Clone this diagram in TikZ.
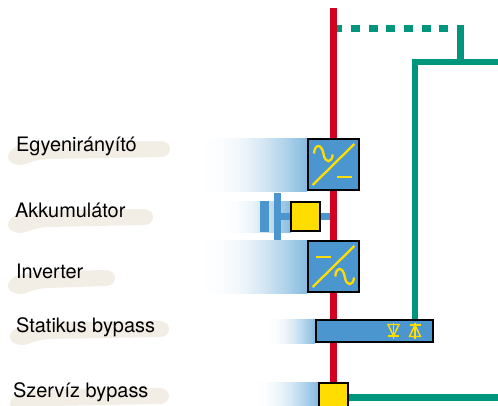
\documentclass[tikz,border=0pt]{standalone}
\usepackage{fontspec}
\setmainfont{TeX Gyre Heros}
\usetikzlibrary{positioning}
\usetikzlibrary{backgrounds}
\definecolor{busred}{HTML}{D4001F}
\definecolor{busgreen}{HTML}{00967D}
\definecolor{boxblue}{HTML}{4B96CE}
\definecolor{glowblue}{HTML}{85BBDF}
\definecolor{symyellow}{HTML}{FFDD00}
\definecolor{brushfill}{HTML}{F2EEE6}

\pgfdeclarehorizontalshading{glowshade}{100bp}{
  color(0bp)=(white); color(25bp)=(white); color(35bp)=(glowblue!3!white);
  color(45bp)=(glowblue!14!white); color(55bp)=(glowblue!36!white);
  color(65bp)=(glowblue!66!white); color(75bp)=(glowblue); color(100bp)=(glowblue)}

\newcommand{\brushstroke}[3]{
  \fill[brushfill] (#1+8,#2+6) .. controls (#1+2,#2+9) and (#1,#2+13) .. (#1,#2+16)
    .. controls (#1,#2+21) and (#1+6,#2+24) .. (#1+12,#2+24)
    .. controls (#1+20,#2+24) and (#1+22,#2+19) .. (#1+40,#2+18)
    -- (#3-9,#2+16) .. controls (#3-3,#2+16) and (#3,#2+12) .. (#3,#2+8)
    .. controls (#3,#2+3) and (#3-4,#2) .. (#3-10,#2)
    -- (#1+50,#2+1) .. controls (#1+30,#2+2) and (#1+15,#2+3) .. cycle;
}
\newcommand{\sinewave}{
  (0,0) .. controls (0.5,-10) and (8,-10) .. (9.5,0.5) .. controls (11,10) and (18,10) .. (18.7,1)
}

\begin{document}
\begin{tikzpicture}[x=1pt, y=-1pt, node distance=102pt,
                    conv node/.style={rectangle,draw=black,fill=boxblue,line width=2pt,minimum size=51pt,inner sep=0pt},
                    yellow node/.style={rectangle,draw=black,fill=symyellow,line width=2pt,minimum size=29pt,inner sep=0pt},
                    plate node/.style={rectangle,fill=boxblue,inner sep=0pt},
                    label node/.style={anchor=base west,inner sep=0pt,font=\fontsize{19.9}{22}\selectfont},
                    symbol/.style={draw=symyellow,line width=2.3pt},
                    thin symbol/.style={draw=symyellow,line width=1.4pt},
                    red wire/.style={draw=busred,line width=6.5pt},
                    green wire/.style={draw=busgreen,line width=6.5pt},
                    blue wire/.style={draw=boxblue,line width=7pt},
                    glow/.style={shading=glowshade,draw=none}]

  \useasboundingbox (0,0) rectangle (498,405);

  \node[conv node] (rectifier) at (333.5,164.5) {};
  \node[conv node] (inverter) [below of=rectifier] {};
  \node[yellow node] (battery) at (305.3,216.4) {};
  \node[plate node,minimum width=7pt,minimum height=47pt] (plate2) at (277.5,216.4) {};
  \node[plate node,minimum width=9pt,minimum height=31pt] (plate1) at (264.5,216.4) {};
  \node[rectangle,draw=black,fill=boxblue,line width=2pt,minimum width=117.3pt,minimum height=21.7pt,inner sep=0pt] (bypass) at (374.3,330.8) {};
  \node[yellow node] (service) at (333.5,397.5) {};

  \node[label node] (l1) at (16,151) {Egyenirányító};
  \node[label node] (l2) at (15,217.7) {Akkumulátor};
  \node[label node] (l3) at (16,278.7) {Inverter};
  \node[label node] (l4) at (16,332) {Statikus bypass};
  \node[label node] (l5) at (13,397) {Szervíz bypass};

  \coordinate (redtop) at (333.5,8);
  \coordinate (busleft) at (415,62);
  \coordinate (busstub) at (460.5,62);
  \coordinate (busright) at (498,62);
  \coordinate (stubtop) at (460.5,25);
  \coordinate (dotright) at (457,28.5);
  \coordinate (dotleft) at (336.7,28.5);
  \coordinate (serviceright) at (498,397.5);

  \begin{scope}[on background layer]
    \brushstroke{8}{141}{170}
    \brushstroke{8}{209}{153}
    \brushstroke{8}{270}{115}
    \brushstroke{10}{321}{169}
    \brushstroke{10}{388}{169}

    \shade[glow] (200,138) rectangle (307,191);
    \shade[glow] (222,201) rectangle (291,232);
    \shade[glow] (200,240) rectangle (307,293);
    \shade[glow] (265,319) rectangle (315,343);
    \shade[glow] (252,382) rectangle (318,405);

    \path[blue wire] (plate2) -- (battery);
    \path[blue wire] (battery) -- (battery -| redtop);
    \path[red wire] (redtop) -- (service);
    \path[green wire] (busleft |- bypass.north) -- (busleft) -- (busright);
    \path[green wire] (stubtop) -- (busstub);
    \path[green wire] (service) -- (serviceright);
    \path[green wire,dash pattern=on 9pt off 8.7pt,dash phase=9pt] (dotright) -- (dotleft);
  \end{scope}

  \begin{scope}[shift={(rectifier.center)}]
    \draw[symbol] (-20.8,20.5) -- (20.8,-20.5);
    \draw[symbol] (3.2,12.2) -- (18.5,12.2);
    \draw[symbol,shift={(-19.5,-11)}] \sinewave;
  \end{scope}
  \begin{scope}[shift={(inverter.center)}]
    \draw[symbol] (-20.8,20.5) -- (20.8,-20.5);
    \draw[symbol] (-17.5,-9.8) -- (-2.5,-9.8);
    \draw[symbol,shift={(1.8,10)}] \sinewave;
  \end{scope}

  \begin{scope}[shift={(393.5,330.5)}]
    \draw[thin symbol] (-5.5,-6) -- (5.5,-6) -- (0,5.5) -- cycle;
    \draw[thin symbol] (-5.5,5.5) -- (5.5,5.5);
    \draw[thin symbol] (0,-8) -- (0,8);
  \end{scope}
  \begin{scope}[shift={(415,330.5)}]
    \draw[thin symbol] (-5.5,6) -- (5.5,6) -- (0,-5.5) -- cycle;
    \draw[thin symbol] (-5.5,-5.5) -- (5.5,-5.5);
    \draw[thin symbol] (0,-8) -- (0,8);
  \end{scope}

\end{tikzpicture}
\end{document}
